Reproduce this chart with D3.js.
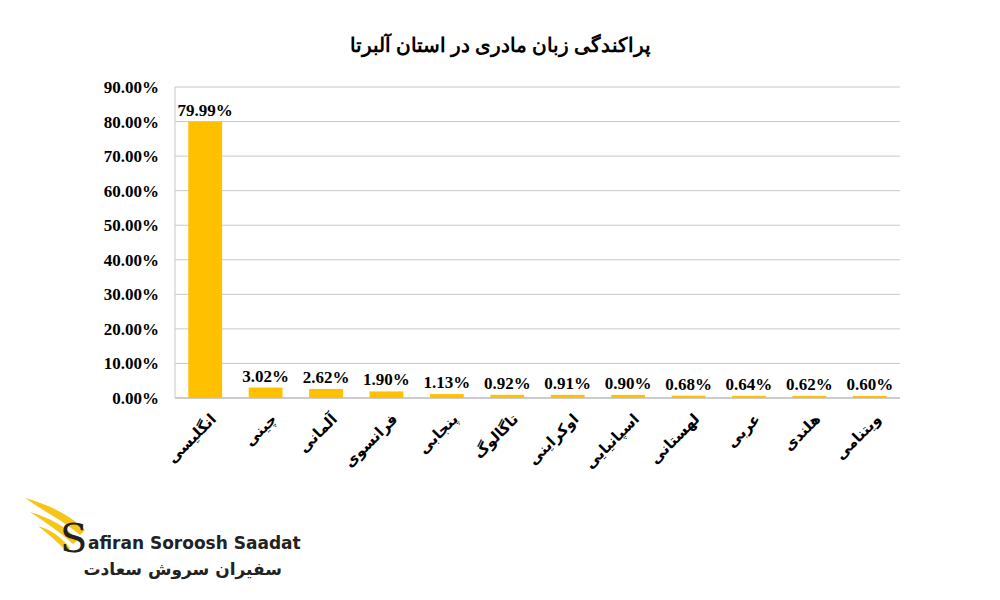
<!DOCTYPE html>
<html><head><meta charset="utf-8">
<script src="https://cdn.jsdelivr.net/npm/d3@7"></script>
<style>body{margin:0;background:#fff}</style></head>
<body><svg id="c" width="1000" height="600"></svg>
<script>
const categories=["انگلیسی","چینی","آلمانی","فرانسوی","پنجابی","تاگالوگ","اوکراینی","اسپانیایی","لهستانی","عربی","هلندی","ویتنامی"];
const values=[79.99,3.02,2.62,1.90,1.13,0.92,0.91,0.90,0.68,0.64,0.62,0.60];
const yTicks=[0,10,20,30,40,50,60,70,80,90];
const title="پراکندگی زبان مادری در استان آلبرتا";

const svg=d3.select("#c");
const L=175,R=900,T=87,B=398;
const x=d3.scaleBand().domain(categories).range([L,R]).paddingInner(0.44).paddingOuter(0.22);
const y=d3.scaleLinear().domain([0,90]).range([B,T]);
const serif="'Liberation Serif','DejaVu Serif',serif";

svg.append("text").attr("x",500).attr("y",52).attr("text-anchor","middle")
 .attr("font-family",serif).attr("font-weight","bold").attr("font-size",20).text(title);

svg.append("g").selectAll("line").data(yTicks).join("line")
 .attr("x1",L).attr("x2",R).attr("y1",d=>y(d)).attr("y2",d=>y(d))
 .attr("stroke",d=>d===0?"#999":"#c8c8c8").attr("stroke-width",1);
svg.append("line").attr("x1",L).attr("x2",L).attr("y1",T).attr("y2",B).attr("stroke","#c8c8c8");

const ya=svg.append("g").attr("transform",`translate(${L},0)`)
 .call(d3.axisLeft(y).tickValues(yTicks).tickFormat(d=>d.toFixed(2)+"%").tickSize(0).tickPadding(16));
ya.select(".domain").remove();
ya.selectAll("text").attr("font-family",serif).attr("font-weight","bold").attr("font-size",17).attr("fill","#000");

svg.append("g").selectAll("rect").data(values).join("rect")
 .attr("x",(d,i)=>x(categories[i])).attr("width",x.bandwidth())
 .attr("y",d=>y(d)).attr("height",d=>B-y(d)).attr("fill","#FFC000");

svg.append("g").selectAll("text").data(values).join("text")
 .attr("x",(d,i)=>x(categories[i])+x.bandwidth()/2).attr("y",d=>y(d)-6)
 .attr("text-anchor","middle").attr("font-family",serif).attr("font-weight","bold").attr("font-size",17)
 .text(d=>d.toFixed(2)+"%");

svg.append("g").selectAll("text").data(categories).join("text")
 .attr("transform",d=>`translate(${x(d)+x.bandwidth()/2+12},${B+22}) rotate(-45)`)
 .attr("text-anchor","end").attr("font-family","'DejaVu Sans',sans-serif").attr("font-weight","bold").attr("font-size",15)
 .text(d=>d);

// logo
const g=svg.append("g");
g.append("path").attr("d","M25,498 C50,505 70,515 85,530 L80,535 C65,522 45,512 25,498Z").attr("fill","#F5C518");
g.append("path").attr("d","M30,512 C50,518 65,526 78,540 L73,544 C60,532 45,522 30,512Z").attr("fill","#F5C518");
g.append("path").attr("d","M38,526 C52,530 62,538 70,548 L66,551 C58,542 48,534 38,526Z").attr("fill","#F5C518");
g.append("text").attr("x",60).attr("y",552).attr("font-family","'DejaVu Serif',serif").attr("font-size",40).attr("fill","#222").text("S");
g.append("text").attr("x",88).attr("y",549).attr("font-family","'DejaVu Sans',sans-serif").attr("font-weight","bold").attr("font-size",17).attr("fill","#222").text("afiran Soroosh Saadat");
g.append("text").attr("x",282).attr("y",575).attr("text-anchor","end").attr("font-family","'DejaVu Sans',sans-serif").attr("font-weight","bold").attr("font-size",17).attr("fill","#222").text("سفیران سروش سعادت");
</script></body></html>
